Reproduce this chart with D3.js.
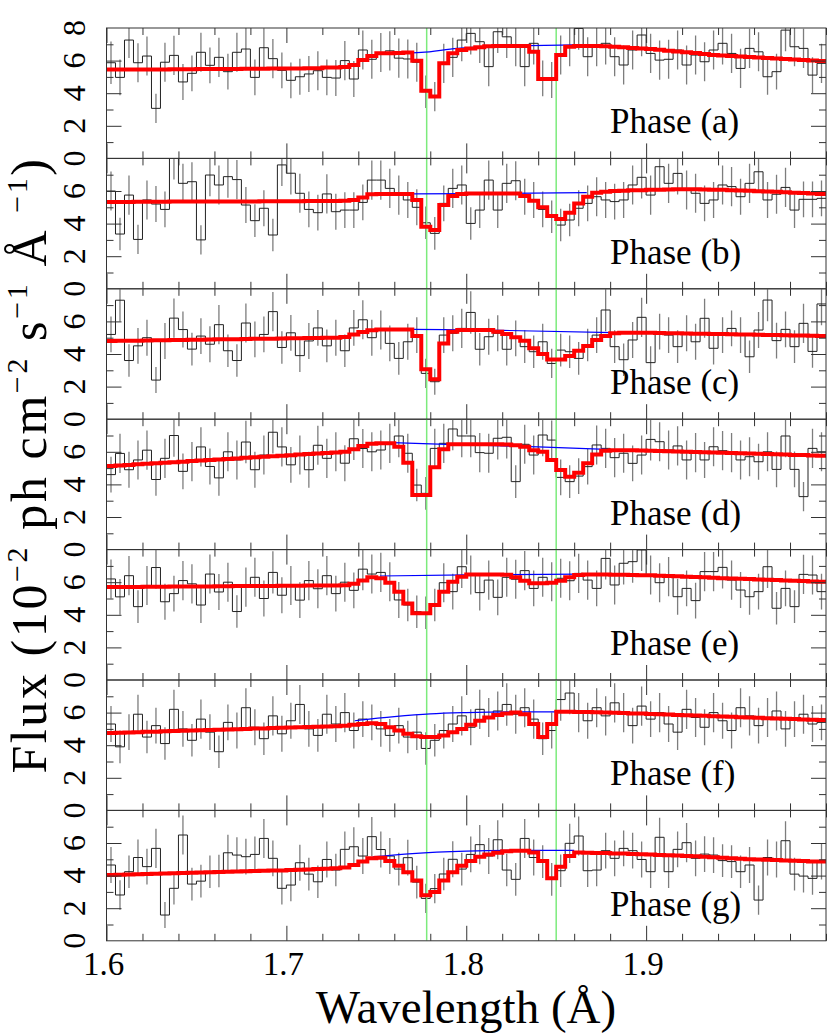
<!DOCTYPE html>
<html><head><meta charset="utf-8">
<script src="https://cdn.jsdelivr.net/npm/d3@7"></script>
<style>
body{margin:0;background:#fff}
svg{display:block}
</style>
</head><body>
<svg id="c" width="830" height="1033"></svg>
<script>
// ---------------- DATA ----------------
const phaseNames = ["Phase (a)","Phase (b)","Phase (c)","Phase (d)","Phase (e)","Phase (f)","Phase (g)"];
const xTickLabels = [1.6, 1.7, 1.8, 1.9];
const yTickLabels = [0, 2, 4, 6];
const yTickLabelsTop = [0, 2, 4, 6, 8];
const lineCenters = [1.778, 1.850];
const binLow = 1.6, binHigh = 2.0, binCount = 80;

const fluxA = [5.87,4.97,7.26,5.87,6.28,3.07,5.90,6.32,4.69,5.22,
 6.51,5.71,6.20,5.32,6.51,6.71,4.97,6.79,6.12,5.40,
 4.79,5.01,5.18,5.38,4.97,4.93,6.00,4.87,6.65,6.08,
 6.50,6.60,6.15,6.10,5.90,4.09,3.79,5.83,6.20,7.26,
 7.67,7.16,5.63,7.77,7.46,6.85,5.63,7.06,4.91,4.81,
 6.34,6.85,7.97,6.24,6.95,7.06,6.24,5.73,6.65,7.57,
 6.44,6.03,6.08,6.65,5.73,6.34,5.93,6.65,7.06,6.44,
 5.52,6.75,6.54,5.01,5.32,7.87,6.85,6.75,5.11,5.83];
const errA = [1.3,1.1,1.1,1.2,1.2,0.9,1.2,1.2,1.1,1.1,
 1.2,1.1,1.2,1.1,1.2,1.3,1.1,1.2,1.2,1.1,
 1.1,1.1,1.1,1.2,1.1,1.1,1.2,1.1,1.2,1.2,
 1.2,1.2,1.2,1.2,1.2,1.0,0.9,1.2,1.2,1.3,
 1.3,1.3,1.2,1.3,1.3,1.2,1.2,1.3,1.1,1.1,
 1.2,1.2,1.3,1.2,1.3,1.3,1.2,1.2,1.2,1.3,
 1.2,1.2,1.2,1.2,1.2,1.2,1.2,1.2,1.3,1.2,
 1.2,1.2,1.2,1.1,1.1,1.3,1.2,1.2,1.1,1.2];
const modelA = [5.45,5.45,5.45,5.45,5.46,5.46,5.46,5.47,5.47,5.47,
 5.48,5.48,5.48,5.49,5.49,5.50,5.50,5.50,5.51,5.51,
 5.52,5.52,5.53,5.53,5.57,5.57,5.60,5.73,6.04,6.28,
 6.45,6.45,6.47,6.50,5.99,4.15,3.79,5.83,6.45,6.65,
 6.75,6.82,6.88,6.90,6.90,6.90,6.90,6.54,4.87,4.87,
 6.34,6.85,6.90,6.90,6.90,6.88,6.85,6.82,6.78,6.75,
 6.71,6.66,6.61,6.56,6.51,6.46,6.40,6.34,6.31,6.28,
 6.25,6.22,6.19,6.16,6.13,6.10,6.07,6.03,6.00,5.97];
const contA = [[1.762,6.45],[1.775,6.50],[1.795,6.75],[1.815,6.87],[1.835,6.92],[1.860,6.96]];

const fluxB = [6.00,3.36,5.75,3.03,5.45,5.20,4.87,8.00,6.47,6.57,
 3.00,6.98,6.37,6.88,6.70,5.14,4.18,4.94,3.30,7.60,
 7.09,5.86,4.87,4.67,5.82,4.73,4.83,4.83,5.30,6.67,
 6.67,6.16,5.75,5.45,5.00,4.05,3.40,5.24,6.16,6.37,
 4.01,4.83,6.67,4.83,6.47,6.63,5.65,5.45,4.87,4.42,
 3.91,4.22,4.94,5.24,5.65,5.45,5.35,5.45,6.37,6.84,
 5.75,7.49,6.47,7.08,6.06,5.86,5.24,5.45,6.37,6.27,
 5.65,6.47,7.18,5.45,5.80,6.22,4.83,5.49,5.49,5.55];
const errB = [1.2,1.0,1.2,0.9,1.2,1.1,1.1,1.3,1.2,1.2,
 0.9,1.3,1.2,1.3,1.2,1.1,1.0,1.1,1.0,1.3,
 1.3,1.2,1.1,1.1,1.2,1.1,1.1,1.1,1.1,1.2,
 1.2,1.2,1.2,1.1,1.1,1.0,1.0,1.1,1.2,1.2,
 1.0,1.1,1.2,1.1,1.2,1.2,1.1,1.1,1.1,1.0,
 1.0,1.0,1.1,1.1,1.2,1.1,1.1,1.1,1.2,1.3,
 1.2,1.3,1.2,1.3,1.2,1.2,1.1,1.1,1.2,1.2,
 1.1,1.2,1.3,1.1,1.2,1.2,1.1,1.1,1.1,1.1];
const modelB = [5.33,5.33,5.33,5.34,5.34,5.34,5.34,5.35,5.35,5.35,
 5.35,5.35,5.36,5.36,5.36,5.36,5.36,5.37,5.37,5.37,
 5.37,5.37,5.38,5.38,5.38,5.38,5.40,5.45,5.60,5.80,
 5.82,5.82,5.82,5.82,5.45,3.81,3.60,5.14,5.69,5.82,
 5.84,5.84,5.84,5.84,5.84,5.84,5.69,5.40,5.00,4.47,
 4.28,4.67,5.24,5.65,5.90,5.96,6.00,6.02,6.04,6.05,
 6.07,6.08,6.09,6.10,6.10,6.10,6.09,6.08,6.07,6.05,
 6.03,6.01,5.99,5.97,5.95,5.93,5.90,5.87,5.85,5.82];
const contB = [[1.770,5.82],[1.820,5.85],[1.867,5.90]];

const fluxC = [5.20,7.30,3.60,4.50,5.00,2.40,4.80,6.20,5.50,4.30,
 5.10,4.60,5.80,4.20,3.60,5.90,4.90,5.20,6.60,4.40,
 5.30,3.90,4.80,5.60,4.50,5.00,4.20,5.60,6.10,5.00,
 5.47,4.65,3.73,4.75,5.16,2.81,2.30,5.16,5.27,5.57,
 6.55,4.29,5.06,5.27,4.29,4.96,4.45,4.14,4.75,3.42,
 4.24,4.14,3.73,4.55,5.16,6.70,4.45,3.65,4.86,6.25,
 3.47,5.37,5.16,4.45,5.27,4.75,6.19,4.35,5.16,5.57,
 5.16,3.83,5.47,7.31,4.82,5.51,4.45,5.88,4.16,7.07];
const errC = [1.1,1.3,1.0,1.1,1.1,0.8,1.1,1.2,1.1,1.0,
 1.1,1.1,1.2,1.0,1.0,1.2,1.1,1.1,1.2,1.0,
 1.1,1.0,1.1,1.1,1.0,1.1,1.0,1.1,1.2,1.1,
 1.2,1.1,1.0,1.1,1.1,0.9,0.8,1.1,1.1,1.2,
 1.3,1.0,1.1,1.1,1.0,1.1,1.0,1.0,1.1,0.9,
 1.0,1.0,1.0,1.0,1.1,1.3,1.0,1.0,1.1,1.2,
 1.0,1.1,1.1,1.0,1.1,1.1,1.2,1.0,1.1,1.1,
 1.1,1.0,1.1,1.3,1.1,1.1,1.0,1.2,1.0,1.3];
const modelC = [4.80,4.81,4.82,4.82,4.83,4.84,4.85,4.86,4.86,4.87,
 4.88,4.89,4.90,4.90,4.91,4.92,4.93,4.94,4.94,4.95,
 4.96,4.97,4.98,4.98,4.99,5.00,5.05,5.20,5.35,5.45,
 5.51,5.51,5.51,5.51,5.10,3.06,2.45,4.64,5.37,5.47,
 5.47,5.47,5.47,5.37,5.23,5.02,4.82,4.35,4.00,3.67,
 3.67,3.87,4.20,4.49,4.86,5.10,5.27,5.31,5.31,5.30,
 5.30,5.29,5.28,5.27,5.26,5.25,5.24,5.23,5.22,5.21,
 5.20,5.19,5.18,5.17,5.16,5.15,5.14,5.13,5.12,5.10];
const contC = [[1.770,5.51],[1.820,5.45],[1.882,5.31]];

const fluxD = [4.60,5.90,4.90,5.50,6.10,4.30,5.60,7.00,4.80,5.40,
 6.30,5.10,4.40,6.00,5.50,6.60,4.90,5.80,7.20,6.30,
 5.20,5.80,4.90,6.40,5.60,6.00,5.30,6.80,6.20,6.00,
 6.11,6.52,6.97,5.91,3.96,3.45,6.21,6.52,7.40,6.97,
 6.97,5.95,5.91,6.83,6.89,4.17,6.46,5.80,7.03,6.72,
 4.43,4.17,4.51,5.09,6.42,6.21,5.64,5.91,5.29,5.80,
 6.76,6.62,6.11,6.36,5.50,5.95,5.50,6.31,6.07,5.95,
 5.50,5.70,5.39,6.00,4.92,6.97,4.92,3.25,6.21,6.00];
const errD = [1.1,1.2,1.1,1.2,1.2,1.0,1.2,1.3,1.1,1.2,
 1.2,1.1,1.1,1.2,1.2,1.3,1.1,1.2,1.3,1.2,
 1.1,1.2,1.1,1.2,1.2,1.2,1.1,1.3,1.2,1.2,
 1.2,1.2,1.3,1.2,1.0,1.0,1.2,1.2,1.3,1.3,
 1.3,1.2,1.2,1.3,1.3,1.0,1.2,1.2,1.3,1.2,
 1.1,1.0,1.1,1.1,1.2,1.2,1.2,1.2,1.1,1.2,
 1.3,1.2,1.2,1.2,1.2,1.2,1.1,1.2,1.2,1.2,
 1.2,1.2,1.1,1.2,1.1,1.3,1.1,0.9,1.2,1.2];
const modelD = [5.13,5.16,5.19,5.23,5.26,5.29,5.33,5.36,5.39,5.43,
 5.46,5.49,5.53,5.56,5.59,5.63,5.66,5.69,5.73,5.76,
 5.79,5.83,5.86,5.89,5.93,5.96,6.00,6.15,6.35,6.50,
 6.52,6.52,6.31,5.33,3.35,3.35,5.05,6.15,6.46,6.46,
 6.46,6.46,6.46,6.46,6.45,6.40,6.31,6.10,6.00,5.50,
 4.88,4.47,4.72,5.29,5.84,6.07,6.10,6.10,6.09,6.08,
 6.06,6.05,6.03,6.02,6.00,5.99,5.97,5.96,5.94,5.93,
 5.91,5.90,5.88,5.86,5.85,5.83,5.81,5.80,5.78,5.76];
const contD = [[1.759,6.56],[1.789,6.46],[1.840,6.30],[1.878,6.15]];

const fluxE = [6.20,5.10,6.40,4.50,5.80,6.90,4.80,5.30,6.10,5.90,
 4.60,6.50,5.40,6.00,4.20,5.70,6.30,5.00,6.60,5.20,
 5.80,4.90,6.10,5.60,6.40,5.30,6.00,5.50,6.80,6.50,
 6.60,6.03,4.91,4.60,4.19,4.13,4.60,5.97,5.42,6.95,
 6.44,5.36,6.13,5.07,6.30,6.18,6.71,5.62,6.30,6.03,
 6.24,6.09,6.54,6.13,5.62,7.46,5.83,7.16,7.26,7.98,
 6.44,5.97,6.34,5.11,5.62,4.87,6.65,6.65,6.91,6.13,
 5.52,5.11,5.42,6.95,4.40,5.62,4.50,6.48,6.44,5.42];
const errE = [1.2,1.1,1.2,1.0,1.2,1.3,1.1,1.1,1.2,1.2,
 1.1,1.2,1.1,1.2,1.0,1.2,1.2,1.1,1.3,1.1,
 1.2,1.1,1.2,1.2,1.2,1.1,1.2,1.1,1.3,1.2,
 1.2,1.2,1.1,1.0,1.0,1.0,1.0,1.2,1.1,1.3,
 1.2,1.1,1.2,1.1,1.2,1.2,1.2,1.1,1.2,1.2,
 1.2,1.2,1.2,1.2,1.1,1.3,1.2,1.3,1.3,1.3,
 1.2,1.2,1.2,1.1,1.1,1.1,1.2,1.2,1.3,1.2,
 1.1,1.1,1.1,1.3,1.0,1.1,1.0,1.2,1.2,1.1];
const modelE = [5.70,5.70,5.71,5.71,5.72,5.72,5.72,5.73,5.73,5.74,
 5.74,5.74,5.75,5.75,5.76,5.76,5.76,5.77,5.77,5.78,
 5.78,5.78,5.79,5.79,5.80,5.80,5.82,5.90,6.10,6.30,
 6.24,5.97,5.42,4.70,4.09,4.09,4.60,5.42,6.03,6.34,
 6.48,6.48,6.48,6.48,6.46,6.30,6.09,5.93,5.93,5.97,
 6.09,6.30,6.44,6.48,6.48,6.47,6.46,6.45,6.44,6.43,
 6.42,6.40,6.38,6.36,6.34,6.32,6.30,6.28,6.25,6.23,
 6.21,6.19,6.17,6.15,6.13,6.11,6.09,6.07,6.05,6.03];
const contE = [[1.752,6.38],[1.800,6.45],[1.863,6.50]];

const fluxF = [5.30,3.90,4.80,5.90,4.50,5.20,4.10,6.20,5.00,4.30,
 5.60,4.80,3.60,5.40,4.90,6.30,5.10,4.40,5.80,4.70,
 5.50,6.50,5.00,4.60,5.90,5.30,6.00,4.90,5.60,5.40,
 5.00,4.60,5.20,4.50,4.80,3.80,4.30,4.90,5.30,5.80,
 5.10,6.20,5.70,6.10,6.50,5.90,6.30,5.60,4.40,4.90,
 6.80,7.20,6.00,5.50,6.30,5.80,6.60,6.00,5.20,6.40,
 5.60,6.00,5.30,4.80,6.20,5.70,5.10,6.00,5.50,4.90,
 6.30,5.80,5.20,5.70,6.10,5.00,5.60,5.90,5.30,5.40];
const errF = [1.1,1.0,1.1,1.2,1.0,1.1,1.0,1.2,1.1,1.0,
 1.2,1.1,1.0,1.1,1.1,1.2,1.1,1.0,1.2,1.1,
 1.1,1.2,1.1,1.0,1.2,1.1,1.2,1.1,1.1,1.1,
 1.1,1.0,1.1,1.0,1.1,1.0,1.0,1.1,1.1,1.2,
 1.1,1.2,1.2,1.2,1.3,1.2,1.2,1.2,1.0,1.1,
 1.3,1.3,1.2,1.1,1.2,1.2,1.2,1.2,1.1,1.2,
 1.1,1.2,1.1,1.1,1.2,1.2,1.1,1.2,1.1,1.1,
 1.2,1.2,1.1,1.2,1.2,1.1,1.1,1.2,1.1,1.1];
const modelF = [4.75,4.77,4.78,4.80,4.82,4.83,4.85,4.87,4.88,4.90,
 4.92,4.93,4.95,4.97,4.98,5.00,5.02,5.03,5.05,5.07,
 5.08,5.10,5.12,5.13,5.15,5.17,5.20,5.25,5.30,5.35,
 5.30,5.10,4.90,4.70,4.55,4.50,4.50,4.60,4.80,5.00,
 5.25,5.50,5.70,5.85,5.95,6.00,5.90,5.30,4.50,5.30,
 6.05,6.05,6.04,6.03,6.02,6.00,5.99,5.97,5.95,5.94,
 5.92,5.90,5.88,5.86,5.84,5.82,5.80,5.78,5.76,5.74,
 5.72,5.70,5.68,5.66,5.64,5.62,5.60,5.58,5.56,5.55];
const contF = [[1.738,5.50],[1.760,5.75],[1.780,5.92],[1.800,6.00],[1.830,6.05],[1.860,6.05]];

const fluxG = [4.65,2.81,4.24,5.11,4.55,5.67,1.58,3.22,6.49,3.48,
 3.66,4.24,4.28,5.40,5.26,5.16,5.30,6.28,5.06,3.22,
 3.42,4.79,4.09,3.62,4.99,4.34,5.61,5.77,5.20,6.39,
 5.60,5.20,4.40,5.10,3.60,2.60,3.20,4.10,5.00,4.40,
 5.30,5.90,5.20,6.20,4.34,3.77,6.28,5.11,4.86,3.77,
 4.30,5.98,6.43,4.30,4.34,5.53,5.06,5.67,5.53,4.99,
 4.24,6.35,4.24,5.61,6.02,5.06,5.32,5.26,4.92,4.86,
 4.24,4.65,2.50,5.11,4.99,6.14,4.09,3.97,3.83,4.86];
const errG = [1.1,0.9,1.0,1.1,1.1,1.2,0.8,1.0,1.2,1.0,
 1.0,1.0,1.0,1.1,1.1,1.1,1.1,1.2,1.1,1.0,
 1.0,1.1,1.0,1.0,1.1,1.0,1.1,1.2,1.1,1.2,
 1.1,1.1,1.0,1.1,1.0,0.9,0.9,1.0,1.1,1.0,
 1.1,1.2,1.1,1.2,1.0,1.0,1.2,1.1,1.0,1.0,
 1.0,1.2,1.2,1.0,1.0,1.1,1.1,1.1,1.1,1.1,
 1.0,1.2,1.0,1.1,1.2,1.1,1.1,1.1,1.0,1.0,
 1.0,1.1,0.9,1.1,1.1,1.2,1.0,1.0,1.0,1.1];
const modelG = [4.04,4.05,4.07,4.08,4.10,4.11,4.13,4.14,4.16,4.17,
 4.19,4.20,4.22,4.23,4.25,4.26,4.28,4.29,4.31,4.32,
 4.34,4.36,4.38,4.40,4.42,4.45,4.50,4.65,4.86,5.06,
 5.10,4.90,4.60,4.20,3.70,2.80,3.00,3.70,4.20,4.60,
 4.90,5.15,5.30,5.40,5.50,5.53,5.53,5.41,4.90,3.83,
 4.55,5.20,5.41,5.40,5.39,5.38,5.36,5.35,5.33,5.31,
 5.29,5.27,5.25,5.23,5.21,5.19,5.16,5.13,5.10,5.07,
 5.04,5.01,4.99,4.97,4.95,4.93,4.91,4.89,4.87,4.86];
const contG = [[1.748,5.15],[1.770,5.35],[1.800,5.50],[1.830,5.55],[1.860,5.55]];

const fluxes = [fluxA, fluxB, fluxC, fluxD, fluxE, fluxF, fluxG];
const errors = [errA, errB, errC, errD, errE, errF, errG];
const models = [modelA, modelB, modelC, modelD, modelE, modelF, modelG];
const continua = [contA, contB, contC, contD, contE, contF, contG];

// ---------------- LAYOUT ----------------
const FONT = "'Liberation Serif', 'DejaVu Serif', 'Times New Roman', serif";
const X0 = 106.5, X1 = 826, TOP = 28, PH = 130.4;
const svg = d3.select("#c").attr("font-family", FONT);
const x = d3.scaleLinear().domain([binLow, binHigh]).range([X0, X1]);
const bw = (binHigh - binLow) / binCount;
const edges = d3.range(binCount).map(i => binLow + i * bw);
const minorX = d3.range(1.6, 2.0001, 0.02).map(v => +v.toFixed(3));
const majorX = xTickLabels;
const axisCol = "#333";
const defs = svg.append("defs");

const lineGen = (y) => d3.line().x(d => x(d[0])).y(d => y(d[1]));

fluxes.forEach((flux, p) => {
  const top = TOP + p * PH, bot = top + PH;
  const y = d3.scaleLinear().domain([0, 8]).range([bot, top]);
  defs.append("clipPath").attr("id", "cp" + p).append("rect")
    .attr("x", X0).attr("y", top).attr("width", X1 - X0).attr("height", PH);
  const g = svg.append("g");
  const gc = g.append("g").attr("clip-path", `url(#cp${p})`);
  const err = errors[p];
  gc.selectAll("line.eb").data(flux).join("line").attr("class", "eb")
    .attr("x1", (d, i) => x(edges[i] + bw / 2)).attr("x2", (d, i) => x(edges[i] + bw / 2))
    .attr("y1", (d, i) => y(d - err[i])).attr("y2", (d, i) => y(d + err[i]))
    .attr("stroke", "#7d7d7d").attr("stroke-width", 1.3);
  const hist = flux.map((d, i) => [edges[i], d]).concat([[binHigh, flux[flux.length - 1]]]);
  gc.append("path").attr("d", lineGen(y).curve(d3.curveStepAfter)(hist))
    .attr("fill", "none").attr("stroke", "#222").attr("stroke-width", 1);
  gc.selectAll("line.gl").data(lineCenters).join("line").attr("class", "gl")
    .attr("x1", d => x(d)).attr("x2", d => x(d)).attr("y1", top).attr("y2", bot)
    .attr("stroke", "#7CEB7C").attr("stroke-width", 1.5);
  gc.append("path").attr("d", lineGen(y).curve(d3.curveMonotoneX)(continua[p]))
    .attr("fill", "none").attr("stroke", "#0000ff").attr("stroke-width", 1.2);
  const mod = models[p];
  const mpts = mod.map((d, i) => [edges[i], d]).concat([[binHigh, mod[mod.length - 1]]]);
  gc.append("path").attr("d", lineGen(y).curve(d3.curveStepAfter)(mpts))
    .attr("fill", "none").attr("stroke", "#ff0000").attr("stroke-width", 4)
    .attr("stroke-linejoin", "miter");

  const mk = (axis, tr) => {
    const a = g.append("g").attr("transform", tr).call(axis);
    a.select(".domain").remove();
    a.selectAll("line").attr("stroke", axisCol);
    return a;
  };
  const minorXv = minorX.filter(v => !majorX.some(m => Math.abs(m - v) < 1e-6));
  mk(d3.axisBottom(x).tickValues(minorXv).tickSize(-7).tickFormat(""), `translate(0,${bot})`);
  mk(d3.axisBottom(x).tickValues(majorX).tickSize(-15).tickFormat(""), `translate(0,${bot})`);
  mk(d3.axisTop(x).tickValues(minorXv).tickSize(-7).tickFormat(""), `translate(0,${top})`);
  mk(d3.axisTop(x).tickValues(majorX).tickSize(-15).tickFormat(""), `translate(0,${top})`);
  const minorY = [1, 3, 5, 7], majorY = [2, 4, 6];
  mk(d3.axisLeft(y).tickValues(minorY).tickSize(-7).tickFormat(""), `translate(${X0},0)`);
  mk(d3.axisLeft(y).tickValues(majorY).tickSize(-15).tickFormat(""), `translate(${X0},0)`);
  mk(d3.axisRight(y).tickValues(minorY).tickSize(-7).tickFormat(""), `translate(${X1},0)`);
  mk(d3.axisRight(y).tickValues(majorY).tickSize(-15).tickFormat(""), `translate(${X1},0)`);
  g.append("rect").attr("x", X0).attr("y", top).attr("width", X1 - X0).attr("height", PH)
    .attr("fill", "none").attr("stroke", axisCol).attr("stroke-width", 1);

  const labs = p === 0 ? yTickLabelsTop : yTickLabels;
  g.selectAll("text.yl").data(labs).join("text").attr("class", "yl")
    .attr("transform", d => `translate(85,${y(d)}) rotate(-90)`)
    .attr("text-anchor", "middle").attr("font-size", 32).text(d => d);

  g.append("text").attr("x", 610).attr("y", bot - 25)
    .attr("font-size", 35).text(phaseNames[p]);

  if (p === fluxes.length - 1) {
    g.selectAll("text.xl").data(xTickLabels).join("text").attr("class", "xl")
      .attr("x", d => x(d) - 3).attr("y", 975).attr("text-anchor", "middle")
      .attr("font-size", 33).text(d => d.toFixed(1));
  }
});

svg.append("text").attr("x", 466).attr("y", 1023).attr("text-anchor", "middle")
  .attr("font-size", 47).text("Wavelength (Å)");

const yt = svg.append("text").attr("transform", "translate(46,465) rotate(-90)")
  .attr("text-anchor", "middle").attr("font-size", 50).attr("letter-spacing", 2.6);
const parts = [["Flux (10", 0], ["−2", 1], [" ph cm", 0], ["−2", 1], [" s", 0], ["−1", 1], [" Å ", 0], ["−1", 1], [")", 0]];
let raised = false;
parts.forEach(([t, sup]) => {
  const ts = yt.append("tspan").text(t);
  if (sup) { ts.attr("font-size", 30).attr("dy", raised ? 0 : -19); raised = true; }
  else { ts.attr("dy", raised ? 19 : 0); raised = false; }
});
</script>
</body></html>
